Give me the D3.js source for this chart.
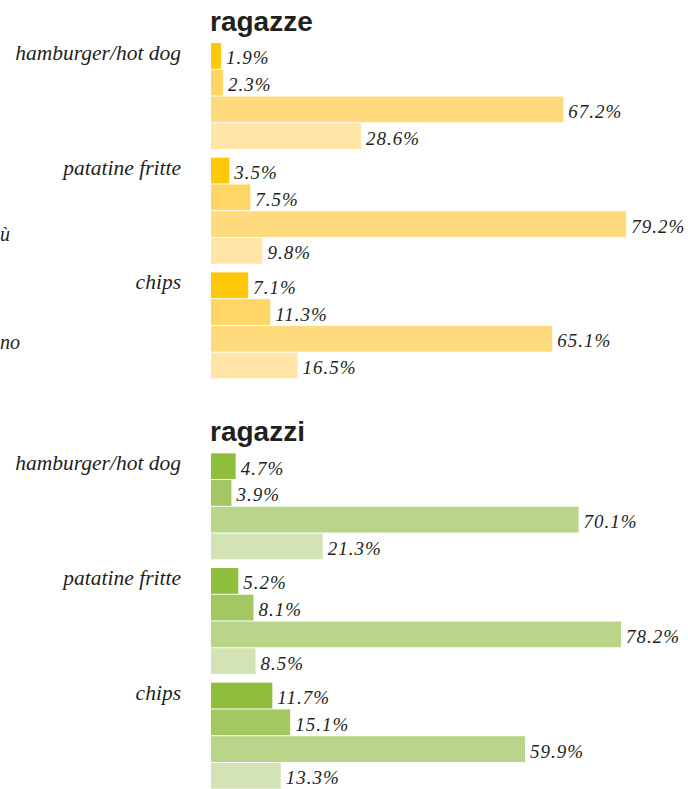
<!DOCTYPE html>
<html><head><meta charset="utf-8">
<script src="https://cdn.jsdelivr.net/npm/d3@7"></script>
<style>
body{margin:0;background:#fff;}
svg{display:block;}
</style></head>
<body>
<script>
const categories = ["hamburger/hot dog", "patatine fritte", "chips"];
const girls = [
  [1.9, 2.3, 67.2, 28.6],
  [3.5, 7.5, 79.2, 9.8],
  [7.1, 11.3, 65.1, 16.5]
];
const boys = [
  [4.7, 3.9, 70.1, 21.3],
  [5.2, 8.1, 78.2, 8.5],
  [11.7, 15.1, 59.9, 13.3]
];
const panelTitles = ["ragazze", "ragazzi"];
const legendFragments = ["ù", "no"];

const girlColors = ["#FFC80B", "#FFD566", "#FFDB7E", "#FFE5A7"];
const boyColors = ["#8FBE3D", "#A3C862", "#B9D58A", "#D3E3B4"];

const W = 688, H = 789;
const svg = d3.select("body").append("svg").attr("width", W).attr("height", H);

const x = d3.scaleLinear().domain([0, 100]).range([211, 211 + 524.3]);
const yGroup = d3.scaleBand().domain(categories).range([0, 336.4]).paddingInner(0.067).paddingOuter(0);
const ySeries = d3.scaleBand().domain(d3.range(4)).range([0, yGroup.bandwidth()]).padding(0);

const serif = "'Liberation Serif', 'DejaVu Serif', serif";

// legend fragments visible at the left edge
svg.append("text").attr("x", 0).attr("y", 241)
  .attr("font-family", serif).attr("font-style", "italic").attr("font-size", 20).attr("fill", "#231f20")
  .text(legendFragments[0]);
svg.append("text").attr("x", 0).attr("y", 349)
  .attr("font-family", serif).attr("font-style", "italic").attr("font-size", 20).attr("fill", "#231f20")
  .text(legendFragments[1]);

function panel(top, title, data, colors) {
  const g = svg.append("g").attr("transform", `translate(0,${top})`);
  g.append("text").attr("x", 210).attr("y", -12)
    .attr("font-family", "'Liberation Sans', Arial, sans-serif").attr("font-weight", "bold")
    .attr("font-size", 28).attr("fill", "#231f20").text(title);
  categories.forEach((cat, i) => {
    const gy = yGroup(cat);
    g.append("text").attr("x", 181).attr("y", gy + 17).attr("text-anchor", "end")
      .attr("font-family", serif).attr("font-style", "italic").attr("font-size", 21.5)
      .attr("fill", "#231f20").text(cat);
    data[i].forEach((v, j) => {
      const by = gy + ySeries(j);
      g.append("rect").attr("x", x(0)).attr("y", by)
        .attr("width", x(v) - x(0)).attr("height", ySeries.bandwidth() - 1)
        .attr("fill", colors[j]);
      g.append("text").attr("x", x(v) + 5).attr("y", by + ySeries.bandwidth() / 2 + 8)
        .attr("font-family", serif).attr("font-style", "italic").attr("font-size", 19)
        .attr("letter-spacing", 1).attr("fill", "#231f20")
        .text(v.toFixed(1) + "%");
    });
  });
}

panel(43, panelTitles[0], girls, girlColors);
panel(453.3, panelTitles[1], boys, boyColors);
</script>
</body></html>
